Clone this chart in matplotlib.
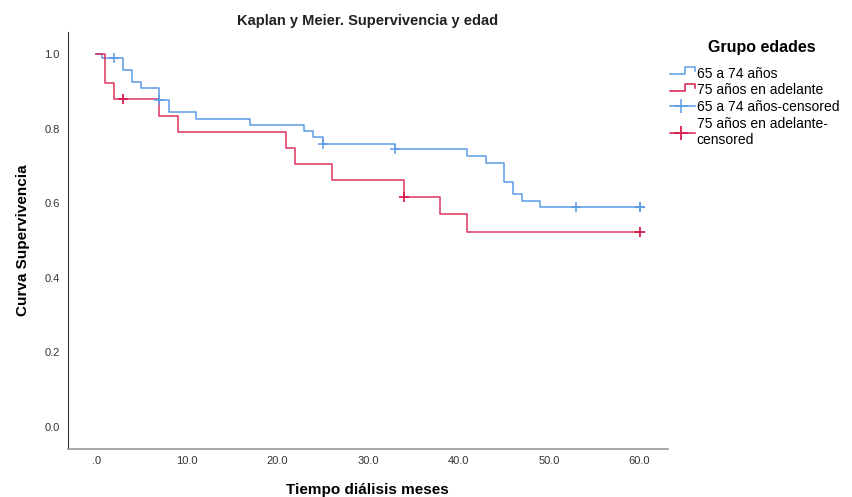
import matplotlib.pyplot as plt
from matplotlib.legend_handler import HandlerBase
from matplotlib.lines import Line2D

plt.rcParams['font.family'] = ['Liberation Sans', 'DejaVu Sans']

# Curvas de supervivencia (tiempo del escalón, valor tras el escalón)
t_6574 = [0, 0.7, 3, 4, 5, 7, 8, 11, 17, 23, 24, 25, 33, 41, 43, 45, 46, 47, 49, 60]
s_6574 = [1.0, 0.989, 0.957, 0.924, 0.908, 0.877, 0.844, 0.826, 0.810, 0.794,
          0.778, 0.760, 0.744, 0.727, 0.709, 0.658, 0.625, 0.607, 0.589, 0.589]
t_75 = [0, 1, 2, 7, 9, 21, 22, 26, 34, 38, 41, 60]
s_75 = [1.0, 0.923, 0.879, 0.835, 0.792, 0.749, 0.705, 0.661, 0.616, 0.570, 0.522, 0.522]

# Casos censurados
cens_6574 = [2, 7, 25, 33, 53, 60, 60]
cens_75 = [3, 34, 60]

azul = '#5b9be6'
rojo = '#d81e4c'


def valor_en(t, tiempos, surv):
    v = surv[0]
    for ti, si in zip(tiempos, surv):
        if ti <= t:
            v = si
    return v


class HandlerEscalon(HandlerBase):
    def create_artists(self, legend, orig, xd, yd, w, h, fontsize, trans):
        xs = [xd, xd + w * 0.6, xd + w * 0.6, xd + w, xd + w]
        ys = [yd + h * 0.3, yd + h * 0.3, yd + h * 0.95, yd + h * 0.95, yd + h * 0.6]
        ln = Line2D(xs, ys, color=orig.get_color(), lw=1.1, transform=trans)
        return [ln]


class HandlerCensura(HandlerBase):
    def create_artists(self, legend, orig, xd, yd, w, h, fontsize, trans):
        ym = yd + h * 0.4
        ln = Line2D([xd, xd + w], [ym, ym], color=orig.get_color(), lw=1.1,
                    transform=trans)
        mk = Line2D([xd + w * 0.45], [ym], ls='none', marker='+', ms=10,
                    mew=orig.get_markeredgewidth(), color=orig.get_color(),
                    transform=trans)
        return [ln, mk]


fig = plt.figure(figsize=(8.53, 4.97), dpi=100)
ax = fig.add_axes([0.0797, 0.0966, 0.703, 0.839])

l1, = ax.step(t_6574, s_6574, where='post', color=azul, lw=1.1)
l2, = ax.step(t_75, s_75, where='post', color=rojo, lw=1.1, alpha=0.9)

c1, = ax.plot(cens_6574, [valor_en(c, t_6574, s_6574) for c in cens_6574], ls='none',
              marker='+', ms=7, mew=1.1, color=azul)
c2, = ax.plot(cens_75, [valor_en(c, t_75, s_75) for c in cens_75], ls='none',
              marker='+', ms=7, mew=1.3, color=rojo)

ax.set_xlim(-3.1, 63.1)
ax.set_ylim(-0.059, 1.059)
ax.set_xticks([0, 10, 20, 30, 40, 50, 60])
ax.set_xticklabels(['.0', '10.0', '20.0', '30.0', '40.0', '50.0', '60.0'])
ax.set_yticks([0, 0.2, 0.4, 0.6, 0.8, 1.0])
ax.set_yticklabels(['0.0', '0.2', '0.4', '0.6', '0.8', '1.0'])
ax.tick_params(length=0, labelsize=8, colors='#333333', pad=6)
ax.tick_params(axis='x', pad=5)

for s in ['top', 'right']:
    ax.spines[s].set_visible(False)
ax.spines['left'].set_color('#333333')
ax.spines['bottom'].set_color('#999999')
ax.spines['bottom'].set_linewidth(1.2)

ax.set_title('Kaplan y Meier. Supervivencia y edad', fontsize=10.5, fontweight='bold',
             color='#222222', pad=5)
ax.set_xlabel('Tiempo diálisis meses', fontsize=11, fontweight='bold', labelpad=12)
ax.set_ylabel('Curva Supervivencia', fontsize=11, fontweight='bold', labelpad=10)

fig.text(0.893, 0.905, 'Grupo edades', fontsize=11.5, fontweight='bold',
         ha='center', va='center')
leg = fig.legend([l1, l2, c1, c2],
                 ['65 a 74 años', '75 años en adelante', '65 a 74 años-censored',
                  '75 años en adelante-\ncensored'],
                 handler_map={l1: HandlerEscalon(), l2: HandlerEscalon(),
                              c1: HandlerCensura(), c2: HandlerCensura()},
                 loc='upper left', bbox_to_anchor=(0.785, 0.866), frameon=False,
                 fontsize=10, handlelength=1.8, handleheight=0.8,
                 handletextpad=0.15, labelspacing=0.2, borderaxespad=0,
                 borderpad=0)

fig.savefig('out.png', dpi=100)
